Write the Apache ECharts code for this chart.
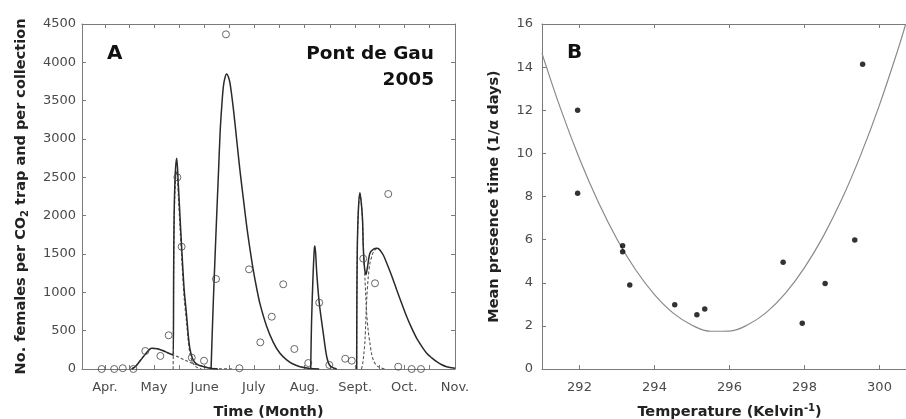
<!DOCTYPE html>
<html>
<head>
<meta charset="utf-8">
<script src="https://cdn.jsdelivr.net/npm/echarts@6/dist/echarts.min.js"></script>
<style>
html,body{margin:0;padding:0;background:#fff;}
#chart{width:906px;height:419px;}
</style>
</head>
<body>
<div id="chart"></div>
<script>
// ---------- Panel A data (x = day of year 2005, y = females per trap) ----------
const monthStartDays = [91, 121, 152, 182, 213, 244, 274, 305];
const monthLabels = ['Apr.', 'May', 'June', 'July', 'Aug.', 'Sept.', 'Oct.', 'Nov.'];
const midMonthDays = [106, 136.5, 167, 197.5, 228.5, 259, 289.5];

const obsDay = [89.0, 96.7, 101.9, 108.4, 115.7, 124.9, 130.0, 135.3, 137.9, 144.1, 151.6, 158.9, 165.0, 173.2, 179.1, 186.0, 193.0, 200.0, 206.8, 215.3, 222.0, 228.2, 237.9, 241.9, 248.9, 256.1, 264.2, 270.3, 278.5, 284.2];
const obsCount = [0, 0, 10, 0, 235, 170, 440, 2500, 1595, 148, 108, 1174, 4365, 10, 1300, 348, 682, 1105, 261, 78, 865, 52, 134, 108, 1439, 1118, 2283, 30, 0, 0];

// solid total model
const maySolidDay = [107.4, 110, 113, 116, 119.6, 123, 127, 130, 132.8, 133.0, 133.3, 133.8, 134.3, 134.9, 135.9, 136.9, 137.9, 139.4, 141, 142, 143, 144.5, 146, 148, 150, 153, 156, 160];
const maySolidVal = [0, 40, 120, 200, 270, 265, 235, 205, 183, 1200, 2000, 2450, 2650, 2748, 2400, 1990, 1595, 1050, 682, 430, 260, 140, 85, 55, 38, 20, 8, 0];

const juneSolidDay = [155.9, 156.5, 157.3, 158.3, 159.3, 160.4, 161.4, 162.4, 163.4, 164.4, 165.4, 166.5, 167.5, 169.5, 171.6, 173.6, 175.7, 177.7, 179.7, 181.7, 183.8, 185.8, 189.9, 194.0, 198.0, 202.1, 206.0, 210.3, 216.4, 222.0];
const juneSolidVal = [0, 400, 900, 1450, 1987, 2550, 3074, 3420, 3682, 3800, 3848, 3810, 3726, 3400, 2980, 2580, 2210, 1860, 1560, 1290, 1050, 850, 555, 345, 205, 120, 65, 30, 8, 0];

const augSolidDay = [216.8, 217.3, 218.2, 219.0, 219.4, 220.5, 222.0, 224.5, 226.6, 228.6, 232.7];
const augSolidVal = [0, 600, 1200, 1560, 1604, 1248, 865, 465, 160, 43, 0];

const septSolidDay = [244.9, 245.0, 245.3, 246.0, 246.9, 247.8, 248.5, 248.9, 249.7, 250.6, 251.5, 253.0, 255.2, 257.5, 259.2, 261.3, 263.3, 266.4, 269.4, 272.5, 275.5, 278.6, 281.6, 284.7, 287.7, 290.8, 293.8, 296.9, 299.9, 305];
const septSolidVal = [0, 800, 1600, 2100, 2300, 2150, 1943, 1600, 1320, 1230, 1330, 1509, 1565, 1574, 1550, 1480, 1379, 1210, 1030, 850, 682, 530, 400, 295, 205, 145, 95, 55, 30, 9];

// dashed components
const bumpDashDay = [107.4, 110, 113, 116, 119.6, 123, 127, 130, 132.8, 136, 140, 145, 150, 156, 162, 170];
const bumpDashVal = [0, 40, 120, 200, 270, 265, 235, 205, 183, 155, 115, 70, 38, 14, 4, 0];

const mayDashDay = [132.7, 132.8, 133.0, 133.3, 133.8, 134.3, 134.9, 135.9, 136.9, 137.9, 139.4, 141, 142, 143, 144.5, 146, 148, 150];
const mayDashVal = [0, 200, 1050, 1850, 2300, 2500, 2580, 2250, 1850, 1470, 940, 590, 360, 200, 90, 40, 12, 0];

const sept1DashDay = [244.9, 245.0, 245.3, 246.0, 246.9, 247.8, 248.5, 249.2, 250.0, 251.0, 252.0, 253.0, 254.0, 255.1, 256.5, 258.1, 262];
const sept1DashVal = [0, 800, 1600, 2100, 2290, 2140, 1900, 1500, 1161, 726, 490, 335, 200, 117, 60, 30, 0];

const sept2DashDay = [247.8, 248.5, 249.2, 250.0, 251.0, 252.0, 253.0, 254.1, 255.2, 257.5, 259.2];
const sept2DashVal = [0, 60, 180, 378, 900, 1204, 1380, 1465, 1530, 1574, 1550];

// ---------- Panel B data ----------
const tempK = [291.95, 291.95, 293.15, 293.15, 293.34, 294.54, 295.13, 295.34, 297.43, 297.94, 298.55, 299.34, 299.55];
const presence = [12.0, 8.15, 5.72, 5.44, 3.9, 2.98, 2.52, 2.78, 4.95, 2.12, 3.96, 5.98, 14.13];

const fitTemp = [291, 291.5, 292, 292.5, 293, 293.5, 294, 294.5, 295, 295.5, 296, 296.5, 297, 297.5, 298, 298.5, 299, 299.5, 300, 300.5, 300.7];
const fitPresence = [14.64, 12.05, 9.75, 7.74, 6.02, 4.59, 3.45, 2.59, 2.03, 1.75, 1.76, 2.06, 2.65, 3.53, 4.70, 6.15, 7.89, 9.93, 12.25, 14.86, 16.0];

const bTicks = [292, 294, 296, 298, 300];

// ---------- build ----------
const zip = (a, b) => a.map((v, i) => [v, b[i]]);
const FONT = 'DejaVu Sans';
const AX = '#7a7a7a';
const LBL = '#4a4a4a';

function axisBase(extra) {
  return Object.assign({
    type: 'value',
    splitLine: { show: false },
    axisLine: { show: true, onZero: false, lineStyle: { color: AX, width: 1 } },
    axisTick: { show: true, inside: true, length: 4, lineStyle: { color: AX } },
    axisLabel: { color: LBL, fontSize: 13, fontFamily: FONT }
  }, extra);
}

const titleStyle = { fontFamily: FONT, fontWeight: 'bold', fontSize: 14.5, color: '#222' };

const solidStyle = { color: '#2a2a2a', width: 1.5 };
const dashStyle = { color: '#555', width: 1.1, type: [3, 2] };

function lineSeries(days, vals, style, z) {
  return {
    type: 'line', xAxisIndex: 0, yAxisIndex: 0,
    data: zip(days, vals), showSymbol: false, symbol: 'none',
    smooth: 0.3,
    lineStyle: style, z: z, silent: true, animation: false
  };
}

const chart = echarts.init(document.getElementById('chart'), null, { renderer: 'canvas' });
chart.setOption({
  animation: false,
  backgroundColor: '#fff',
  grid: [
    { left: 82, top: 24, right: 451, bottom: 50, containLabel: false, outerBoundsMode: 'none' },
    { left: 542, top: 24, right: -11, bottom: 50, containLabel: false, outerBoundsMode: 'none' }
  ],
  xAxis: [
    axisBase({
      gridIndex: 0, min: 77, max: 305, position: 'bottom',
      axisTick: { show: true, inside: true, length: 4, lineStyle: { color: AX }, customValues: monthStartDays.concat(midMonthDays) },
      axisLabel: {
        color: LBL, fontSize: 13, fontFamily: FONT, margin: 12,
        customValues: monthStartDays,
        formatter: v => { const i = monthStartDays.indexOf(v); return i >= 0 ? monthLabels[i] : ''; }
      },
      name: 'Time (Month)', nameLocation: 'middle', nameGap: 36, nameTextStyle: titleStyle
    }),
    axisBase({
      gridIndex: 0, min: 77, max: 305, position: 'top',
      axisTick: { show: true, inside: true, length: 4, lineStyle: { color: AX }, customValues: monthStartDays.concat(midMonthDays) },
      axisLabel: { show: false }
    }),
    axisBase({
      gridIndex: 1, min: 291, max: 301, position: 'bottom',
      axisTick: { show: true, inside: true, length: 4, lineStyle: { color: AX }, customValues: bTicks },
      axisLabel: { color: LBL, fontSize: 13, fontFamily: FONT, margin: 12, customValues: bTicks, formatter: v => String(v) },
      name: '{t|Temperature (Kelvin}{sup|-1}{t|)}', nameLocation: 'middle', nameGap: 34,
      nameTextStyle: Object.assign({}, titleStyle, {
        rich: {
          t: { fontFamily: FONT, fontWeight: 'bold', fontSize: 14.5, color: '#222' },
          sup: { fontFamily: FONT, fontWeight: 'bold', fontSize: 10, color: '#222', verticalAlign: 'top', padding: [0, 0, 8, 0] }
        }
      })
    }),
    axisBase({
      gridIndex: 1, min: 291, max: 301, position: 'top',
      axisTick: { show: true, inside: true, length: 4, lineStyle: { color: AX }, customValues: bTicks },
      axisLabel: { show: false }
    })
  ],
  yAxis: [
    axisBase({
      gridIndex: 0, min: 0, max: 4500, interval: 500, position: 'left',
      axisLabel: { color: LBL, fontSize: 13, fontFamily: FONT, margin: 6, formatter: v => String(v) },
      name: '{t|No. females per CO}{s|2}{t| trap and per collection}', nameLocation: 'middle', nameGap: 52,
      nameTextStyle: Object.assign({}, titleStyle, {
        rich: {
          t: { fontFamily: FONT, fontWeight: 'bold', fontSize: 14.5, color: '#222' },
          s: { fontFamily: FONT, fontWeight: 'bold', fontSize: 10, color: '#222', verticalAlign: 'bottom', padding: [8, 0, 0, 0] }
        }
      })
    }),
    axisBase({
      gridIndex: 0, min: 0, max: 4500, interval: 500, position: 'right',
      axisLabel: { show: false }
    }),
    axisBase({
      gridIndex: 1, min: 0, max: 16, interval: 2, position: 'left',
      axisLabel: { color: LBL, fontSize: 13, fontFamily: FONT, margin: 9, formatter: v => String(v) },
      name: 'Mean presence time (1/α days)', nameLocation: 'middle', nameGap: 40,
      nameTextStyle: titleStyle
    })
  ],
  series: [
    lineSeries(bumpDashDay, bumpDashVal, dashStyle, 2),
    lineSeries(mayDashDay, mayDashVal, dashStyle, 2),
    lineSeries(sept1DashDay, sept1DashVal, dashStyle, 2),
    lineSeries(sept2DashDay, sept2DashVal, dashStyle, 2),
    lineSeries(maySolidDay, maySolidVal, solidStyle, 3),
    lineSeries(juneSolidDay, juneSolidVal, solidStyle, 3),
    lineSeries(augSolidDay, augSolidVal, solidStyle, 3),
    lineSeries(septSolidDay, septSolidVal, solidStyle, 3),
    {
      type: 'scatter', xAxisIndex: 0, yAxisIndex: 0,
      data: zip(obsDay, obsCount), symbol: 'circle', symbolSize: 7,
      itemStyle: { color: 'rgba(255,255,255,0)', borderColor: '#444', borderWidth: 1 },
      z: 4, silent: true
    },
    {
      type: 'line', xAxisIndex: 2, yAxisIndex: 2,
      data: zip(fitTemp, fitPresence), showSymbol: false, symbol: 'none',
      smooth: 0.4, lineStyle: { color: '#8a8a8a', width: 1.2 }, silent: true
    },
    {
      type: 'scatter', xAxisIndex: 2, yAxisIndex: 2,
      data: zip(tempK, presence), symbol: 'circle', symbolSize: 5.5,
      itemStyle: { color: '#000' }, z: 4, silent: true
    }
  ],
  graphic: [
    { type: 'text', left: 107, top: 44, style: { text: 'A', font: 'bold 20px "DejaVu Sans"', fill: '#111' } },
    { type: 'text', right: 906 - 434, top: 45, style: { text: 'Pont de Gau', font: 'bold 18.5px "DejaVu Sans"', fill: '#111' } },
    { type: 'text', right: 906 - 434, top: 71, style: { text: '2005', font: 'bold 18.5px "DejaVu Sans"', fill: '#111' } },
    { type: 'text', left: 567, top: 43, style: { text: 'B', font: 'bold 20px "DejaVu Sans"', fill: '#111' } }
  ]
});
</script>
</body>
</html>
